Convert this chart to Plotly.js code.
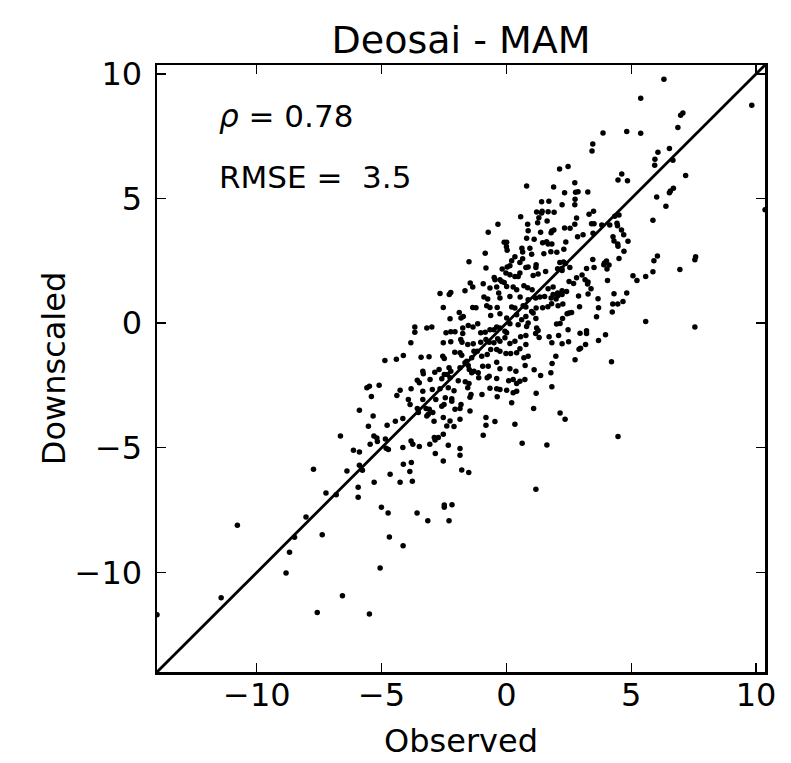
<!DOCTYPE html>
<html>
<head>
<meta charset="utf-8">
<script src="https://cdn.plot.ly/plotly-3.0.1.min.js"></script>
<style>html,body{margin:0;padding:0;background:#fff;}#chart{width:791px;height:763px;}</style>
</head>
<body>
<div id="chart"></div>
<script>
// ---- data: [observed, downscaled] pairs, grouped by region ----
const upperRight = [[6.31,9.79],[5.38,9.03],[9.83,8.74],[7.07,8.43],[6.98,8.34],[6.87,7.85],[3.87,7.63],[4.82,7.69],[5.38,7.62],[3.46,7.19],[3.43,6.91],[6.53,7.01],[6.07,6.86],[5.95,6.58],[6.67,6.54],[5.94,6.34],[2.13,6.19],[2.47,6.29],[4.62,5.99],[4.47,5.74],[4.85,5.71],[7.18,5.93],[2.74,5.63],[1.89,5.46],[2.33,5.23],[2.77,5.25],[2.87,5.27],[3.26,5.26],[6.69,5.41],[6.57,5.30],[6.53,5.23],[6.02,5.06],[2.75,4.97],[1.41,4.87],[1.70,4.89],[2.23,4.75],[2.74,4.75]];
const farRight = [[6.39,4.69],[5.87,4.13],[6.05,2.69],[5.91,2.50],[7.58,2.66],[7.55,2.54],[6.95,2.15],[5.87,2.06],[5.58,1.87],[5.58,0.07],[7.55,-0.15],[10.36,4.55]];
const rightCore = [[1.21,4.46],[1.43,4.49],[1.41,4.42],[1.67,4.47],[1.91,4.45],[2.81,4.22],[3.31,4.37],[3.49,4.49],[1.30,4.23],[1.25,4.03],[1.63,4.10],[2.74,3.97],[3.41,3.99],[3.51,3.99],[3.82,3.94],[4.14,3.94],[4.34,4.29],[4.51,4.34],[4.43,4.01],[4.45,3.91],[4.61,3.74],[2.33,3.82],[2.55,3.81],[1.82,3.70],[1.90,3.74],[1.79,3.63],[1.37,3.65],[3.07,3.55],[3.47,3.61],[2.85,3.47],[4.27,3.47],[4.31,3.30],[4.46,3.18],[4.47,3.09],[4.70,3.55],[4.87,3.29],[1.11,3.37],[2.38,3.26],[1.45,3.23],[1.61,3.27],[1.67,3.18],[1.82,3.18],[0.94,3.01],[2.30,2.97],[4.71,2.89],[1.50,2.79],[1.78,2.87],[2.02,2.85],[1.01,2.77],[3.46,2.55],[4.51,2.59],[2.14,2.43],[2.29,2.45],[2.37,2.39],[3.93,2.41],[4.01,2.49],[3.90,2.34],[1.19,2.34],[1.18,2.23],[2.05,2.18],[2.22,2.19],[2.23,2.11],[2.54,2.23],[1.57,2.07],[1.27,1.97],[1.07,1.91],[3.21,2.19],[3.51,2.23],[4.11,2.33],[4.03,2.17],[5.07,1.90],[5.23,1.71],[2.81,1.82],[3.03,1.93],[3.15,1.74],[3.27,1.65],[3.25,1.57],[2.51,1.67],[2.69,1.59],[4.05,1.71],[1.87,1.45],[1.67,1.38],[3.39,1.38],[4.82,1.21],[4.31,1.18],[1.03,1.34],[2.41,1.27],[2.23,1.30],[2.05,1.21],[2.23,1.15],[2.06,1.10],[1.87,1.15],[1.53,1.07],[1.34,1.05],[1.79,1.01],[1.99,0.97],[1.17,1.01],[2.89,1.09],[3.27,1.17],[3.67,0.98],[4.67,0.87],[4.26,0.77],[4.46,0.77],[2.26,0.77],[2.07,0.70],[1.81,0.78],[1.66,0.66],[1.45,0.62],[1.19,0.61],[2.93,0.66],[3.69,0.62]];
const rightLower = [[2.51,0.41],[2.61,0.43],[2.43,0.38],[3.61,0.26],[4.24,0.45],[2.25,0.19],[2.01,-0.03],[2.15,-0.01],[1.31,-0.58],[1.71,-0.55],[2.09,-0.50],[2.47,-0.26],[1.82,-0.79],[2.23,-0.83],[2.49,-0.75],[2.95,-0.41],[3.21,-0.31],[3.21,-0.42],[3.97,-0.47],[3.69,-0.70],[3.17,-0.86],[2.97,-1.01],[2.91,-1.05],[1.98,-1.33],[2.75,-1.47],[4.21,-1.55],[1.83,-1.62],[1.11,-1.87],[1.37,-2.10],[1.78,-1.99],[1.82,-2.55],[1.19,-2.81],[1.09,-3.43],[2.15,-3.61],[2.35,-3.86],[4.47,-4.55],[1.01,0.47],[1.07,0.41],[1.18,0.19],[1.21,-0.19],[1.27,-0.29],[1.17,-0.42]];
const centerUpper = [[0.81,5.50],[0.57,4.27],[0.85,3.97],[-0.34,3.97],[-0.73,3.65],[0.87,3.71],[0.81,3.41],[-0.09,3.25],[0.01,3.25],[0.00,3.07],[0.03,2.93],[-0.85,2.81],[-1.50,2.46],[0.62,3.01],[0.65,2.86],[0.34,2.66],[0.21,2.50],[-0.82,2.21],[-0.17,2.17],[0.03,2.25],[0.14,2.30],[0.54,2.43],[0.65,2.58],[0.78,2.23],[0.87,2.25],[-0.02,2.01],[0.14,1.94],[0.34,1.87],[0.54,2.01],[0.47,1.87],[-0.49,1.83],[-0.46,1.74],[-0.26,1.74],[-0.19,1.67],[-0.09,1.63],[0.01,1.47],[-1.45,1.61],[-1.35,1.45],[-0.93,1.58],[-1.66,1.30],[-2.66,1.19],[-2.23,1.23],[-2.29,1.15],[-0.66,1.41],[-0.39,1.45],[0.27,1.45],[0.41,1.34],[0.70,1.50],[0.85,1.42],[-0.90,1.05],[-0.75,0.97],[-0.26,1.01],[-0.31,1.21],[0.14,1.07],[0.55,1.05],[0.87,0.94],[-2.53,0.63],[-1.35,0.63],[-1.22,0.62],[-0.79,0.70],[-0.66,0.63],[-0.37,0.63],[0.21,0.65],[0.34,0.61],[0.67,0.70],[0.78,0.65]];
const centerLower = [[-2.26,0.18],[-1.82,0.21],[-1.73,0.27],[-1.89,0.43],[-0.63,0.31],[-0.26,0.38],[0.01,0.21],[0.41,0.34],[0.61,0.14],[0.78,0.27],[0.87,0.01],[-3.67,-0.15],[-3.67,-0.37],[-3.19,-0.19],[-2.99,-0.15],[-2.42,-0.39],[-2.23,-0.35],[-2.06,-0.35],[-1.75,-0.19],[-1.75,-0.42],[-1.53,-0.09],[-1.34,-0.15],[-1.15,-0.02],[-1.03,-0.39],[-0.85,-0.37],[-0.66,-0.26],[-0.50,-0.26],[-0.39,-0.15],[-0.26,-0.19],[-0.06,-0.33],[0.14,-0.02],[0.47,-0.06],[0.81,-0.13],[-3.83,-0.79],[-2.53,-0.79],[-2.23,-0.75],[-1.83,-0.66],[-1.78,-0.77],[-1.55,-0.86],[-1.33,-0.83],[-1.03,-0.77],[-0.82,-0.66],[-0.69,-0.77],[-0.50,-0.79],[-0.35,-0.63],[-0.26,-0.73],[-0.06,-0.59],[0.01,-0.39],[0.14,-0.82],[0.34,-0.73],[0.57,-0.55],[0.78,-0.50],[-4.13,-1.30],[-3.42,-1.37],[-3.10,-1.35],[-2.55,-1.33],[-2.49,-1.42],[-2.07,-1.17],[-1.86,-1.19],[-1.79,-1.29],[-1.59,-1.53],[-1.39,-1.39],[-1.30,-1.13],[-1.17,-1.13],[-0.99,-1.33],[-0.77,-1.26],[-0.63,-1.06],[-0.39,-1.06],[-0.26,-1.13],[-0.02,-1.22],[0.17,-1.22],[0.41,-1.19],[0.54,-1.03],[0.78,-0.86],[0.70,-1.39],[0.87,-1.33],[-3.35,-1.93],[-3.33,-2.03],[-2.87,-1.97],[-2.70,-1.86],[-2.30,-1.79],[-2.23,-1.93],[-2.37,-2.06],[-1.86,-1.79],[-1.66,-1.59],[-1.53,-1.70],[-1.49,-1.86],[-1.39,-1.99],[-1.30,-1.93],[-1.13,-1.99],[-1.11,-2.19],[-0.95,-1.73],[-0.73,-1.73],[-0.39,-1.57],[-0.26,-1.83],[0.14,-1.83],[0.38,-1.93],[0.75,-1.70],[-3.57,-2.29],[-3.49,-2.39],[-3.06,-2.26],[-2.59,-2.23],[-2.49,-2.06],[-2.26,-2.19],[-1.93,-2.31],[-1.65,-2.35],[-1.50,-2.42],[-0.77,-2.19],[-0.69,-2.13],[-0.39,-2.22],[0.09,-2.31],[0.27,-2.26],[0.41,-2.42],[0.74,-2.26],[-4.26,-2.69],[-3.82,-2.63],[-3.35,-2.73],[-2.97,-2.66],[-2.66,-2.63],[-2.33,-2.59],[-2.10,-2.71],[-1.55,-2.59],[-1.42,-2.86],[-0.98,-2.86],[-0.66,-2.61],[-0.39,-2.63],[-0.26,-2.66],[0.01,-2.69],[0.27,-2.79],[0.54,-2.33],[-3.93,-3.06],[-3.86,-3.26],[-3.57,-3.43],[-3.35,-3.06],[-3.22,-3.43],[-3.09,-3.46],[-2.83,-3.06],[-2.59,-3.33],[-2.50,-3.26],[-2.45,-2.99],[-2.19,-3.03],[-2.19,-3.13],[-2.06,-3.46],[-1.86,-3.43],[-1.82,-3.26],[-1.46,-2.97],[-0.37,-2.95],[0.21,-3.19],[0.41,-2.73],[-4.15,-3.83],[-3.53,-3.59],[-3.19,-3.73],[-3.13,-3.66],[-2.95,-3.59],[-2.90,-3.94],[-2.53,-3.79],[-2.39,-4.13],[-2.26,-3.93],[-2.10,-4.15],[-1.86,-3.86],[-1.46,-3.53],[-0.82,-3.79],[-0.82,-4.10],[-0.46,-3.95],[0.34,-4.06],[-2.89,-4.59],[-2.73,-4.59],[-2.53,-4.46],[-0.93,-4.50]];
const lowerMiddle = [[-3.82,-4.73],[-3.75,-4.86],[-2.86,-4.69],[-3.07,-4.86],[-2.33,-4.90],[-3.49,-4.95],[-4.15,-4.99],[-1.86,-5.03],[-1.86,-5.30],[0.63,-4.82],[1.62,-4.89],[-2.85,-5.23],[-2.53,-5.53],[-4.13,-5.66],[-3.81,-5.59],[-3.87,-5.95],[-4.26,-6.39],[-3.77,-6.34],[-1.79,-5.89],[-1.51,-5.99],[1.18,-6.67],[-2.49,-7.30],[-2.49,-7.39],[-2.18,-7.29],[-3.58,-7.62],[-3.15,-7.93],[-2.30,-7.93],[-4.14,-8.93]];
const lowerLeft = [[-7.73,-5.86],[-6.13,-5.10],[-5.89,-5.17],[-4.82,-5.02],[-4.73,-5.07],[-6.39,-5.93],[-5.89,-5.70],[-5.77,-5.90],[-4.66,-6.06],[-7.23,-6.82],[-6.82,-6.89],[-5.94,-6.59],[-5.94,-6.99],[-5.30,-6.39],[-5.01,-7.39],[-4.74,-7.62],[-8.03,-7.78],[-10.78,-8.11],[-8.49,-8.59],[-8.69,-9.19],[-7.38,-8.49],[-4.69,-8.58],[-8.83,-10.03],[-5.06,-9.83],[-11.43,-11.02],[-6.57,-10.94],[-7.58,-11.61],[-5.49,-11.67],[-14.0,-11.7]];
const leftMiddle = [[-4.87,-1.50],[-4.41,-1.45],[-5.59,-2.59],[-5.49,-2.53],[-5.10,-2.49],[-5.41,-2.94],[-4.39,-2.90],[-5.89,-3.50],[-5.34,-3.73],[-5.53,-4.14],[-4.78,-4.10],[-4.45,-3.94],[-6.65,-4.53],[-5.31,-4.53],[-5.19,-4.61],[-5.17,-4.75],[-4.85,-4.65],[-5.46,-4.86]];

const axisLimits = [-14.0, 10.36];
const tickValues = [-10, -5, 0, 5, 10];
const titleText = 'Deosai - MAM';
const xLabel = 'Observed';
const yLabel = 'Downscaled';
const rhoText = '<i>ρ</i> = 0.78';
const rmseText = 'RMSE = \u00A03.5';

const allPts = [].concat(upperRight, farRight, rightCore, rightLower, centerUpper, centerLower, lowerMiddle, lowerLeft, leftMiddle);
const observed = allPts.map(p => p[0]);
const downscaled = allPts.map(p => p[1]);

const font = 'DejaVu Sans, Bitstream Vera Sans, sans-serif';

const traces = [
  {x: axisLimits, y: axisLimits, mode: 'lines', line: {color: '#000', width: 2.8}, hoverinfo: 'skip', showlegend: false},
  {x: observed, y: downscaled, mode: 'markers', marker: {color: '#000', size: 5.5}, showlegend: false}
];

const axisCommon = {
  range: axisLimits, tickvals: tickValues, ticks: 'inside', ticklen: 9, tickwidth: 1.3, tickcolor: '#000',
  showline: true, linecolor: '#000', linewidth: 2.5, mirror: 'ticks', showgrid: false, zeroline: false,
  tickfont: {family: font, size: 32, color: '#000'}
};

const layout = {
  width: 791, height: 763,
  margin: {l: 157, r: 26, t: 65, b: 91},
  paper_bgcolor: '#fff', plot_bgcolor: '#fff',
  title: {text: titleText, font: {family: font, size: 38, color: '#000'}, x: 0.5, xref: 'paper', y: 1 - 40/763, yref: 'container', yanchor: 'middle'},
  xaxis: Object.assign({}, axisCommon, {title: {text: xLabel, font: {family: font, size: 32, color: '#000'}, standoff: 17}, ticklabelstandoff: -7}),
  yaxis: Object.assign({}, axisCommon, {title: {text: yLabel, font: {family: font, size: 32, color: '#000'}, standoff: 0}, ticklabelstandoff: 6}),
  annotations: [
    {x: axisLimits[0] + 2.4, y: 8.3, xref: 'x', yref: 'y', text: rhoText, showarrow: false, xanchor: 'left', yanchor: 'middle', font: {family: font, size: 31, color: '#000'}},
    {x: axisLimits[0] + 2.4, y: 5.88, xref: 'x', yref: 'y', text: rmseText, showarrow: false, xanchor: 'left', yanchor: 'middle', font: {family: font, size: 31, color: '#000'}}
  ]
};

Plotly.newPlot('chart', traces, layout, {displayModeBar: false, staticPlot: true});
</script>
</body>
</html>
